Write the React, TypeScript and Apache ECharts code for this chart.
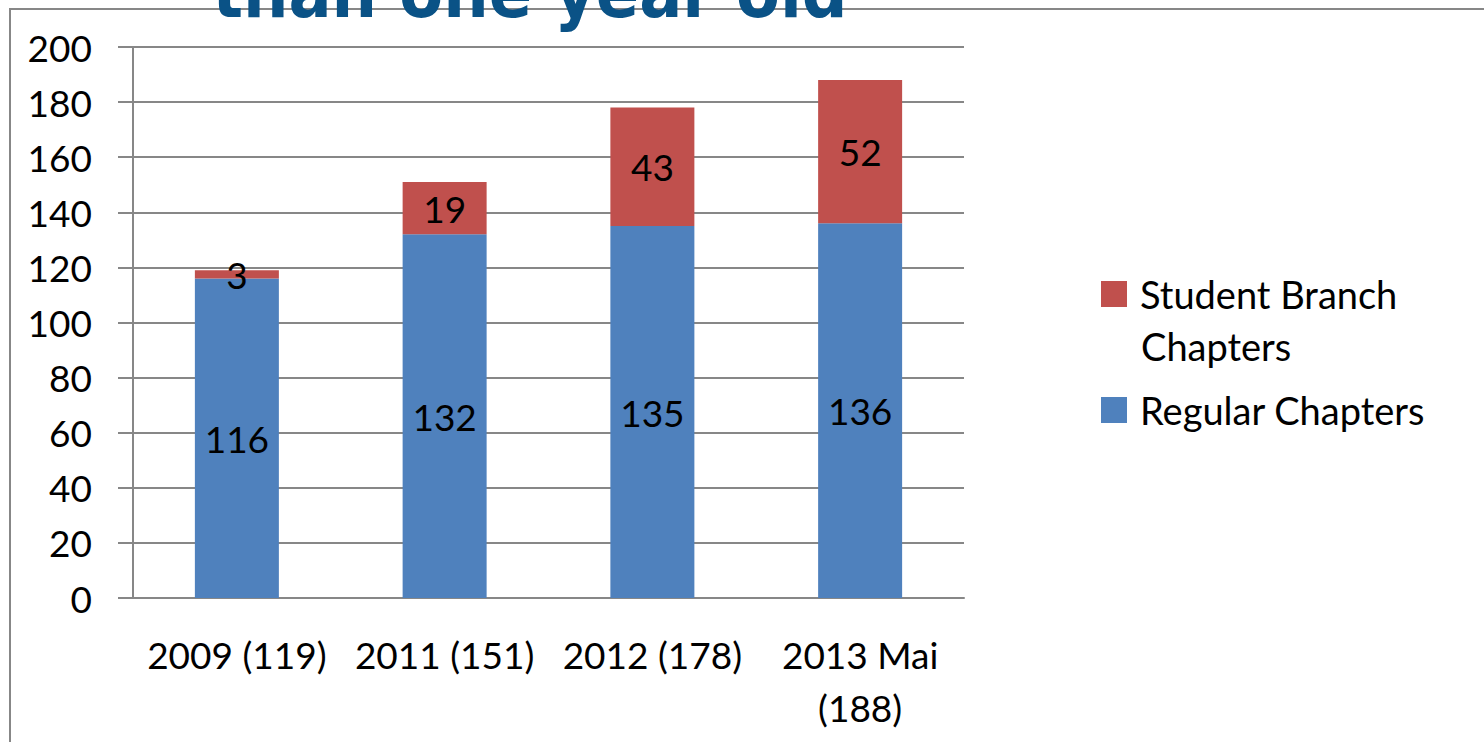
import React, { useEffect, useRef } from "react";
import * as echarts from "echarts";

const categories = ["2009 (119)", "2011 (151)", "2012 (178)", "2013 Mai\n(188)"];
const regularChapters = [116, 132, 135, 136];
const studentBranchChapters = [3, 19, 43, 52];
const yTicks = { min: 0, max: 200, interval: 20 };
const titleText = "than one year old";

const FONT = "Lato, 'Open Sans', sans-serif";
const GRAY = "#878787";

export default function App() {
  const ref = useRef<HTMLDivElement>(null);
  useEffect(() => {
    if (!ref.current) return;
    const chart = echarts.init(ref.current, undefined, { renderer: "svg" });
    chart.setOption({
      animation: false,
      backgroundColor: "#ffffff",
      grid: { left: 133, right: 520, top: 47, bottom: 144, containLabel: false },
      legend: {
        orient: "vertical",
        left: 1096,
        top: 267,
        itemWidth: 26,
        itemHeight: 26,
        itemGap: 72,
        icon: "rect",
        data: ["Student Branch Chapters", "Regular Chapters"],
        formatter: (n: string) => (n === "Student Branch Chapters" ? "Student Branch" : n),
        textStyle: { fontFamily: FONT, fontSize: 38, color: "#000", lineHeight: 44, padding: [0, 0, 0, 8] },
      },
      graphic: [
        {
          type: "rect",
          z: -10,
          shape: { x: 10, y: 9, width: 2000, height: 2000 },
          style: { fill: "none", stroke: GRAY, lineWidth: 2 },
        },
        {
          type: "text",
          z: 10,
          x: 530,
          y: 28,
          style: {
            text: titleText,
            fontFamily: "'DejaVu Sans Condensed', 'DejaVu Sans', sans-serif",
            fontWeight: "bold",
            fontSize: 71,
            fill: "#0a5286",
            align: "center",
            verticalAlign: "bottom",
          },
        },
        {
          type: "text",
          x: 1141,
          y: 346,
          style: {
            text: "Chapters",
            fontFamily: FONT,
            fontSize: 38,
            fill: "#000",
            align: "left",
            verticalAlign: "middle",
          },
        },
      ],
      xAxis: {
        type: "category",
        data: categories,
        axisLine: { lineStyle: { color: GRAY, width: 2 } },
        axisTick: { length: 13, lineStyle: { color: GRAY, width: 2 } },
        axisLabel: { fontFamily: FONT, fontSize: 37, color: "#000", margin: 30, lineHeight: 53, interval: 0 },
      },
      yAxis: {
        type: "value",
        min: yTicks.min,
        max: yTicks.max,
        interval: yTicks.interval,
        axisLine: { show: true, lineStyle: { color: GRAY, width: 2 } },
        axisTick: { show: true, length: 15, lineStyle: { color: GRAY, width: 2 } },
        axisLabel: { fontFamily: FONT, fontSize: 37, color: "#000", margin: 41 },
        splitLine: { lineStyle: { color: GRAY, width: 2 } },
      },
      series: [
        {
          name: "Regular Chapters",
          type: "bar",
          stack: "total",
          barWidth: 84,
          data: regularChapters,
          itemStyle: { color: "#4f81bd" },
          label: { show: true, position: "inside", fontFamily: FONT, fontSize: 37, color: "#000" },
        },
        {
          name: "Student Branch Chapters",
          type: "bar",
          stack: "total",
          barWidth: 84,
          data: studentBranchChapters,
          itemStyle: { color: "#c0504d" },
          label: { show: true, position: "inside", fontFamily: FONT, fontSize: 37, color: "#000" },
        },
      ],
    });
    return () => chart.dispose();
  }, []);
  return (
    <div
      ref={ref}
      style={{ position: "absolute", left: 0, top: 0, width: 1484, height: 742 }}
    />
  );
}
